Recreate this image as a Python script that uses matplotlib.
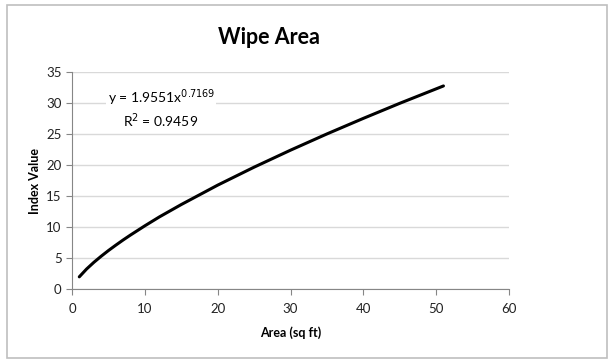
import matplotlib.pyplot as plt
from matplotlib.patches import Rectangle

plt.rcParams['font.family'] = ['Lato', 'DejaVu Sans']

area = [1, 2, 3, 4, 5, 6, 7, 8, 10, 12, 15, 20, 25, 30, 35, 40, 45, 51]
index_value = [1.96, 3.22, 4.30, 5.28, 6.20, 7.06, 7.89, 8.68, 10.19, 11.63,
               13.62, 16.75, 19.65, 22.39, 25.01, 27.52, 29.95, 32.75]
x_ticks = [0, 10, 20, 30, 40, 50, 60]
y_ticks = [0, 5, 10, 15, 20, 25, 30, 35]

fig = plt.figure(figsize=(6.13, 3.63), dpi=100)
fig.patches.append(Rectangle((7 / 613, 5 / 363), 600 / 613, 353 / 363,
                             transform=fig.transFigure, fill=False,
                             edgecolor='#bfbfbf', linewidth=1.2))
ax = fig.add_axes([72 / 613, (363 - 289) / 363, (509 - 72) / 613, (289 - 72) / 363])

ax.plot(area, index_value, color='black', linewidth=2.2, solid_capstyle='round')

ax.set_xlim(0, 60)
ax.set_ylim(0, 35)
ax.set_xticks(x_ticks)
ax.set_yticks(y_ticks)
ax.grid(axis='y', color='#d9d9d9', linewidth=1)
ax.set_axisbelow(True)
for s in ['top', 'right']:
    ax.spines[s].set_visible(False)
for s in ['left', 'bottom']:
    ax.spines[s].set_color('#868686')
ax.tick_params(colors='#868686', labelcolor='#222222', labelsize=9.5, length=4)
ax.tick_params(axis='x', pad=6)

ax.set_xlabel('Area (sq ft)', fontsize=9, fontweight='bold', labelpad=8)
ax.set_ylabel('Index Value', fontsize=9, fontweight='bold', labelpad=4)
fig.text(269 / 613, 1 - 37 / 363, 'Wipe Area', ha='center', va='center',
         fontsize=15.5, fontweight='bold')

ax.text(4.9, 30.9, r'y = 1.9551x$^{0.7169}$', fontsize=10, ha='left', va='center',
        bbox=dict(facecolor='white', edgecolor='none', pad=1.0))
ax.text(7.0, 27.2, r'R$^{2}$ = 0.9459', fontsize=10, ha='left', va='center')

fig.savefig('out.png', dpi=100)
